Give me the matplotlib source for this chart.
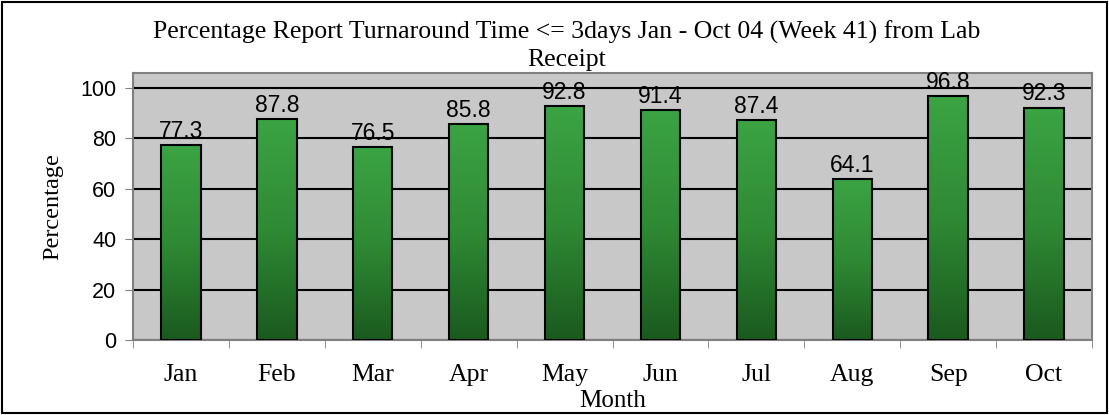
import numpy as np
import matplotlib.pyplot as plt
from matplotlib.colors import LinearSegmentedColormap
from matplotlib.patches import Rectangle

# chart data
months = ['Jan', 'Feb', 'Mar', 'Apr', 'May', 'Jun', 'Jul', 'Aug', 'Sep', 'Oct']
pct = [77.3, 87.8, 76.5, 85.8, 92.8, 91.4, 87.4, 64.1, 96.8, 92.3]
yticks = [0, 20, 40, 60, 80, 100]

fig = plt.figure(figsize=(11.09, 4.15), dpi=100)
ax = fig.add_axes([133 / 1109, 1 - 340 / 415, (1092 - 133) / 1109, (340 - 73) / 415])

# figure border
fig.patches.append(Rectangle((0.002, 0.004), 0.996, 0.992, transform=fig.transFigure,
                             fill=False, edgecolor='black', linewidth=1.5))

ax.set_facecolor('#c8c8c8')
x = np.arange(len(months))
bars = ax.bar(x, pct, 0.41, color='none', edgecolor='black', linewidth=1.5, zorder=3)

# vertical green gradient inside each bar
cmap = LinearSegmentedColormap.from_list('g', ['#1a5a1e', '#2f8a34', '#3ba443'])
grad = np.linspace(0, 1, 256).reshape(-1, 1)
for b in bars:
    x0, w, h = b.get_x(), b.get_width(), b.get_height()
    im = ax.imshow(grad, cmap=cmap, origin='lower', aspect='auto',
                   extent=(x0, x0 + w, 0, h), zorder=2)
    im.set_clip_path(b)

for xi, v in zip(x, pct):
    ax.text(xi, v + 0.8, f'{v}', ha='center', va='bottom', fontsize=16.5,
            family='Liberation Sans', zorder=4)

ax.set_xlim(-0.5, len(months) - 0.5)
ax.set_ylim(0, 106)
ax.set_yticks(yticks)
ax.set_yticklabels([str(t) for t in yticks], family='Liberation Sans', fontsize=15.5)
ax.grid(True, axis='y', color='black', linewidth=1.5, zorder=1)
ax.set_axisbelow(True)

ax.set_xticks(x)
ax.set_xticklabels(months, family='Liberation Serif', fontsize=18.5)
ax.set_xticks(np.arange(len(months) + 1) - 0.5, minor=True)
ax.tick_params(axis='x', which='major', length=0, pad=17)
ax.tick_params(axis='x', which='minor', length=6, color='#808080')
ax.tick_params(axis='y', length=6, color='#808080', pad=6)

for s in ax.spines.values():
    s.set_color('#808080')
    s.set_linewidth(1.5)

ax.set_xlabel('Month', family='Liberation Serif', fontsize=18, labelpad=3.5)
ax.set_ylabel('Percentage', family='Liberation Serif', fontsize=17.5, labelpad=12)

fig.text(0.511, 0.889,
         'Percentage Report Turnaround Time <= 3days Jan - Oct 04 (Week 41) from Lab\nReceipt',
         ha='center', va='center', family='Liberation Serif', fontsize=18.5, linespacing=1.3)

fig.savefig('out.png', dpi=100)
